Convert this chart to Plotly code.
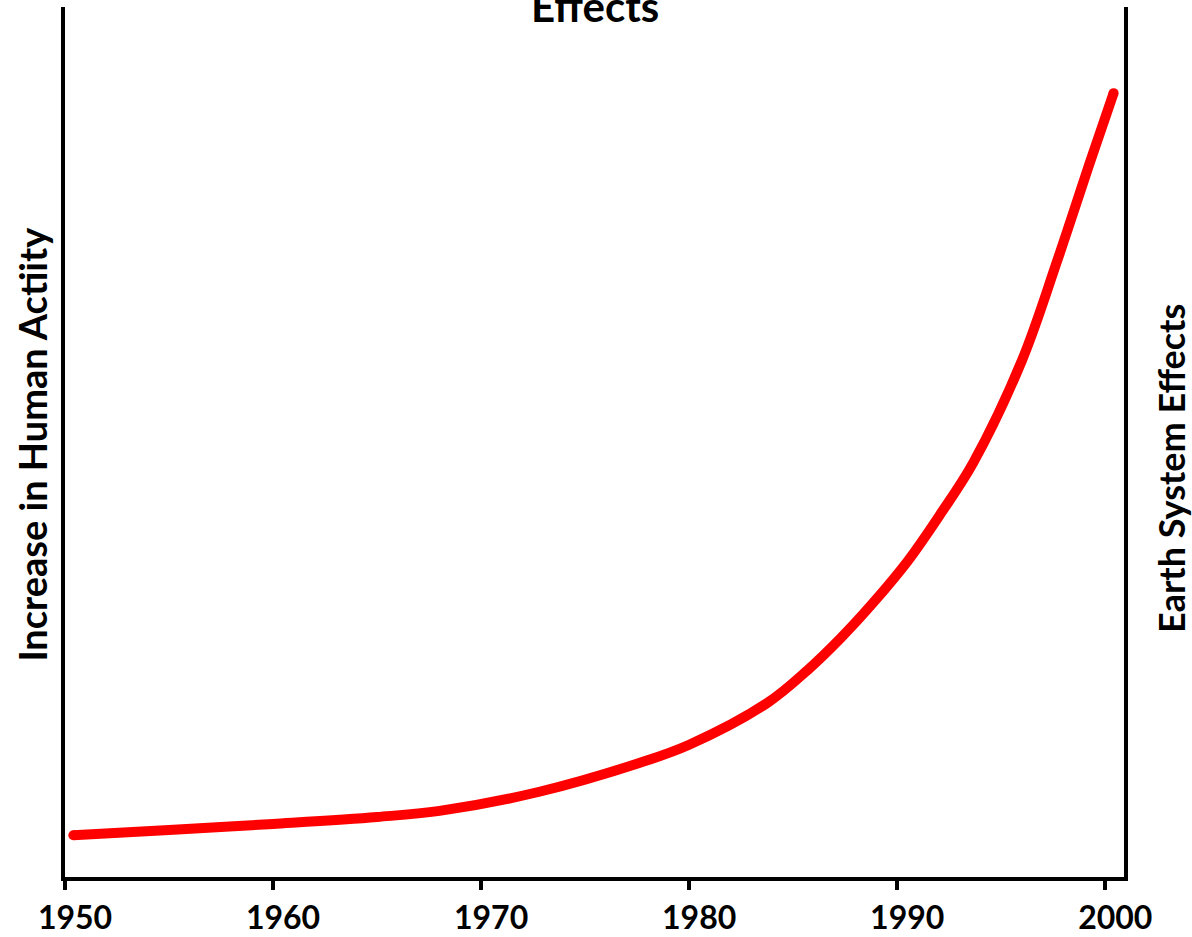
import plotly.graph_objects as go

# Data (index scale 0-100)
years = [1950.4, 1955, 1960, 1965, 1968, 1972.8, 1977.6, 1980, 1983.75, 1985.7, 1987.3,
         1988.8, 1990.5, 1992.1, 1993.65, 1996.0, 1997.7, 1999.3, 2000.4]
activity = [4.8, 5.4, 6.1, 6.9, 7.6, 9.8, 13.1, 15.2, 20.0, 23.8, 27.5,
            31.4, 36.3, 41.8, 47.6, 59.4, 70.9, 82.4, 90.1]
tick_years = [1950, 1960, 1970, 1980, 1990, 2000]
tick_labels = ["1950", "1960", "1970", "1980", "1990", "2000"]

title_text = "Effects"
left_title = "Increase in Human Actiity"
right_title = "Earth System Effects"

FONT = "Lato"

marker_sizes = [10 if i in (0, len(years) - 1) else 0 for i in range(len(years))]

fig = go.Figure()
fig.add_trace(go.Scatter(
    x=years, y=activity,
    mode="lines+markers",
    line=dict(color="#FF0000", width=10, shape="spline", smoothing=1.0),
    marker=dict(color="#FF0000", size=marker_sizes, opacity=1, line=dict(width=0)),
    showlegend=False, hoverinfo="skip",
))

fig.update_layout(
    width=1192, height=937,
    margin=dict(l=65, r=68, t=7, b=60, autoexpand=False),
    paper_bgcolor="white", plot_bgcolor="white",
    font=dict(family=FONT, color="black"),
    xaxis=dict(
        range=[1950, 2000.9],
        tickvals=tick_years, ticktext=tick_labels,
        ticks="outside", ticklen=9, tickwidth=4, tickcolor="black",
        showline=True, linewidth=4, linecolor="black",
        showgrid=False, zeroline=False, automargin=False,
        tickfont=dict(family=FONT, size=32, color="black", weight="bold"),
        ticklabelshift=10, ticklabelstandoff=1,
    ),
    yaxis=dict(
        range=[0, 100],
        showticklabels=False, ticks="",
        showline=True, linewidth=4, linecolor="black", mirror=True,
        showgrid=False, zeroline=False, automargin=False,
    ),
    annotations=[
        dict(text=f"<b>{title_text}</b>", xref="paper", yref="paper", x=0.5, y=1,
             xanchor="center", yanchor="bottom", yshift=-26, showarrow=False,
             font=dict(family=FONT, size=42, color="black")),
        dict(text=f"<b>{left_title}</b>", xref="paper", yref="paper", x=0, y=0.497,
             xanchor="center", yanchor="middle", xshift=-33, textangle=-90, showarrow=False,
             font=dict(family=FONT, size=38, color="black")),
        dict(text=f"<b>{right_title}</b>", xref="paper", yref="paper", x=1, y=0.469,
             xanchor="center", yanchor="middle", xshift=47, textangle=-90, showarrow=False,
             font=dict(family=FONT, size=36, color="black")),
    ],
)

fig.write_html("out.html", config={"displayModeBar": False},
               post_script="document.body.style.margin='0';")
